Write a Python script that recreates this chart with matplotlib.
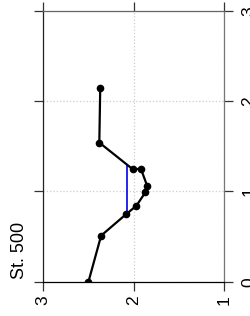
import matplotlib
matplotlib.use("Agg")
import matplotlib.pyplot as plt

# profile of station 500 (plot is drawn turned on its side)
depth = [0.0, 0.51, 0.75, 0.84, 0.99, 1.06, 1.25, 1.245, 1.54, 2.14]
value = [2.50, 2.36, 2.08, 1.97, 1.87, 1.85, 1.92, 2.01, 2.38, 2.37]

# blue marker line
blue_value = 2.07
blue_depth = [0.75, 1.29]

value_ticks = [3, 2, 1]
depth_ticks = [0, 1, 2, 3]
title = "St. 500"

plt.rcParams['font.family'] = ['Liberation Sans', 'DejaVu Sans']

fig = plt.figure(figsize=(2.51, 3.16), dpi=100)
ax = fig.add_axes([43.3 / 251, 1 - 281.7 / 316, (224 - 43.3) / 251, (281.7 - 10.7) / 316])

ax.plot(value, depth, color='black', lw=1.6, marker='o', ms=4.5, zorder=3)
ax.plot([blue_value, blue_value], blue_depth, color='#0000ee', lw=1.2, zorder=2)

ax.set_xlim(3, 1)
ax.set_ylim(0, 3)
ax.set_xticks(value_ticks)
ax.set_yticks(depth_ticks)
ax.set_xticklabels([str(v) for v in value_ticks], rotation=90)
ax.set_yticklabels([str(d) for d in depth_ticks], rotation=90, va='center')

ax.tick_params(axis='both', direction='out', length=6.5, width=0.9, color='#333333',
               labelsize=12.5, top=True, right=True, left=True, bottom=True,
               labelleft=False, labelright=True, labelbottom=True, labeltop=False)
ax.tick_params(axis='x', pad=3)
ax.tick_params(axis='y', pad=6)

ax.grid(True, color='#cccccc', linestyle=':', lw=0.9)
ax.set_axisbelow(True)

ax.spines['left'].set_color('#222222')
ax.spines['top'].set_color('#666666')
ax.spines['right'].set_color('#777777')
ax.spines['bottom'].set_color('black')
for s in ax.spines.values():
    s.set_linewidth(0.9)

fig.text(19.5 / 251, 1 - 279 / 316, title, rotation=90, ha='center', va='bottom', fontsize=13)

fig.savefig("out.png", dpi=100)
